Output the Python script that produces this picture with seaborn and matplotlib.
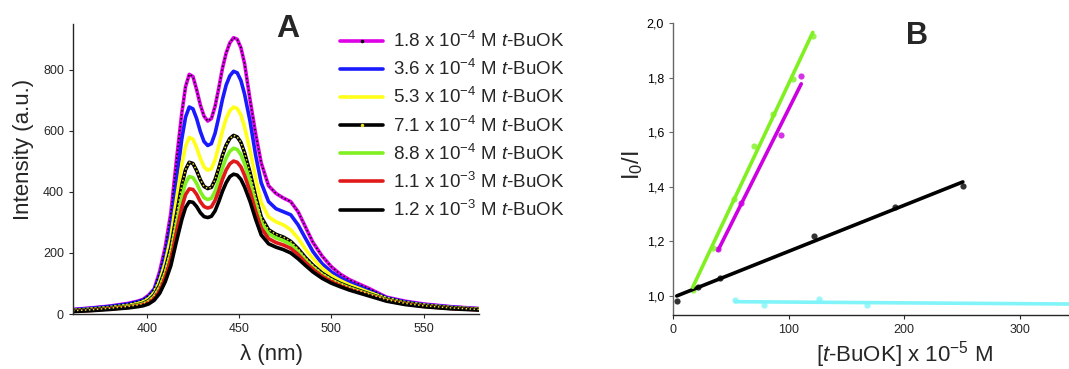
import numpy as np
import pandas as pd
import matplotlib.pyplot as plt
import seaborn as sns
from matplotlib.lines import Line2D

# --- panel A: emission spectra ---
wl = [360, 370, 380, 390, 395, 398, 401, 404, 407, 410, 413, 416, 419, 421, 423, 425, 427,
      429, 431, 433, 435, 437, 439, 441, 443, 445, 447, 449, 451, 453, 456, 459, 462, 466,
      470, 474, 478, 482, 486, 490, 495, 500, 505, 510, 520, 530, 540, 550, 565, 580]

c18 = [15, 20, 26, 35, 42, 48, 62, 82, 140, 220, 330, 500, 660, 745, 785, 778, 735,
       685, 648, 632, 640, 680, 740, 805, 855, 888, 905, 900, 872, 820, 700, 590, 495, 420,
       395, 380, 368, 335, 285, 235, 190, 155, 130, 112, 85, 55, 42, 33, 24, 18]
c36 = [14, 19, 25, 33, 40, 46, 58, 80, 125, 195, 290, 435, 575, 645, 678, 672, 640,
       598, 565, 552, 558, 592, 645, 703, 750, 780, 795, 790, 765, 720, 630, 520, 430, 368,
       345, 335, 325, 292, 248, 205, 165, 138, 118, 103, 78, 53, 40, 31, 23, 17]
c53 = [12, 16, 21, 28, 34, 40, 50, 70, 108, 168, 250, 372, 490, 550, 578, 573, 545,
       510, 482, 471, 476, 505, 550, 600, 640, 666, 678, 673, 652, 612, 535, 445, 365, 318,
       302, 292, 276, 248, 212, 182, 150, 126, 109, 95, 72, 50, 37, 29, 21, 16]
c71 = [11, 14, 19, 25, 30, 35, 44, 62, 95, 147, 218, 322, 423, 473, 497, 493, 470,
       440, 418, 411, 415, 440, 478, 520, 553, 575, 585, 580, 562, 528, 462, 385, 318, 276,
       261, 252, 238, 214, 185, 160, 134, 115, 100, 88, 67, 47, 35, 27, 20, 15]
c88 = [10, 13, 18, 24, 29, 33, 41, 57, 87, 134, 199, 293, 384, 429, 450, 447, 428,
       401, 381, 375, 379, 402, 437, 478, 511, 533, 543, 539, 522, 492, 432, 362, 301, 263,
       249, 240, 228, 205, 177, 153, 129, 111, 97, 85, 65, 46, 34, 26, 19, 15]
c110 = [9, 12, 17, 22, 27, 31, 38, 52, 79, 122, 181, 267, 350, 391, 410, 408, 392,
        368, 352, 347, 351, 372, 404, 441, 472, 492, 501, 497, 482, 454, 400, 336, 282, 247,
        234, 226, 215, 195, 169, 147, 124, 107, 94, 82, 63, 44, 33, 25, 18, 14]
c120 = [8, 11, 15, 20, 24, 27, 33, 45, 68, 106, 158, 236, 310, 349, 368, 366, 352,
        332, 319, 316, 320, 338, 368, 402, 430, 450, 458, 455, 441, 416, 368, 310, 259, 230,
        219, 211, 200, 181, 159, 138, 117, 101, 89, 78, 60, 42, 31, 24, 17, 13]

spectra = [c18, c36, c53, c71, c88, c110, c120]
conc_labels = [
    r"1.8 x 10$^{-4}$ M $\mathit{t}$-BuOK",
    r"3.6 x 10$^{-4}$ M $\mathit{t}$-BuOK",
    r"5.3 x 10$^{-4}$ M $\mathit{t}$-BuOK",
    r"7.1 x 10$^{-4}$ M $\mathit{t}$-BuOK",
    r"8.8 x 10$^{-4}$ M $\mathit{t}$-BuOK",
    r"1.1 x 10$^{-3}$ M $\mathit{t}$-BuOK",
    r"1.2 x 10$^{-3}$ M $\mathit{t}$-BuOK",
]
line_colors = ['#e000e8', '#1a1aff', '#ffff1a', '#000000', '#80f020', '#e01a1a', '#000000']
dot_colors = ['#000000', None, None, '#e8e020', None, None, None]

# --- panel B: Stern-Volmer ---
green_x = [17, 34.8, 52.6, 69.8, 86.8, 104, 121]
green_y = [1.02, 1.175, 1.356, 1.551, 1.666, 1.796, 1.953]
magenta_x = [39, 58.6, 93.7, 111]
magenta_y = [1.171, 1.342, 1.588, 1.807]
black_x = [3.2, 21.8, 40.5, 121.8, 192, 250.9]
black_y = [0.983, 1.034, 1.065, 1.22, 1.327, 1.401]
cyan_x = [54, 78.7, 126, 168, 390]
cyan_y = [0.985, 0.967, 0.989, 0.967, 0.97]

b_yticks = [1.0, 1.2, 1.4, 1.6, 1.8, 2.0]
b_yticklabels = ['1,0', '1,2', '1,4', '1,6', '1,8', '2,0']

sns.set_style('ticks')
plt.rcParams['font.family'] = ['Liberation Sans', 'DejaVu Sans']
plt.rcParams['mathtext.fontset'] = 'custom'
plt.rcParams['mathtext.rm'] = 'Liberation Sans'
plt.rcParams['mathtext.it'] = 'Liberation Sans:italic'
plt.rcParams['mathtext.bf'] = 'Liberation Sans:bold'

fig = plt.figure(figsize=(10.69, 3.69), dpi=100)
axA = fig.add_axes([0.0683, 0.149, 0.3797, 0.786])
axB = fig.add_axes([0.6296, 0.1463, 0.4322, 0.7914])

rows = []
for lab, vals in zip(conc_labels, spectra):
    for w, v in zip(wl, vals):
        rows.append((w, v, lab))
df = pd.DataFrame(rows, columns=['wl', 'I', 'conc'])

sns.lineplot(data=df, x='wl', y='I', hue='conc', hue_order=conc_labels,
             palette=line_colors, lw=2.6, legend=False, errorbar=None, ax=axA)
for vals, dc in zip(spectra, dot_colors):
    if dc is not None:
        axA.plot(wl, vals, color=dc, lw=1.1, ls=(0, (1, 1.6)))

axA.set_xlim(360, 580)
axA.set_ylim(0, 950)
axA.set_xticks([400, 450, 500, 550])
axA.set_yticks([0, 200, 400, 600, 800])
axA.set_xlabel("λ (nm)", fontsize=16, va='center')
axA.set_ylabel("Intensity (a.u.)", fontsize=16, va='center')
axA.xaxis.set_label_coords(0.49, -0.14)
axA.yaxis.set_label_coords(-0.123, 0.566)
fig.text(288 / 1069, 1 - 29 / 369, "A", fontsize=23, fontweight='bold', ha='center', va='center')

handles = []
for c, dc in zip(line_colors, dot_colors):
    if dc is None:
        handles.append(Line2D([], [], color=c, lw=2.6))
    else:
        handles.append(Line2D([], [], color=c, lw=2.6, marker='.', markersize=3,
                              markerfacecolor=dc, markeredgecolor=dc))
fig.legend(handles, conc_labels, loc='upper left', bbox_to_anchor=(340 / 1069, 1 - 31 / 369),
           frameon=False, fontsize=13.5, handlelength=2.3, handletextpad=0.55,
           labelspacing=0.43, borderpad=0, borderaxespad=0, numpoints=1)

for x, y, c in [(black_x, black_y, '#000000'), (magenta_x, magenta_y, '#cc00e0'),
                (green_x, green_y, '#80f020'), (cyan_x, cyan_y, '#80f4f8')]:
    sns.regplot(x=np.array(x), y=np.array(y), ci=None, color=c, ax=axB, truncate=True,
                scatter_kws=dict(s=20, linewidths=0), line_kws=dict(lw=2.6))

axB.set_xlim(0, 400)
axB.set_ylim(0.93, 2.0)
axB.set_xticks([0, 100, 200, 300])
axB.set_yticks(b_yticks)
axB.set_yticklabels(b_yticklabels)
axB.set_xlabel(r"[$\mathit{t}$-BuOK] x 10$^{-5}$ M", fontsize=16, va='center')
axB.set_ylabel(r"I$_0$/I", fontsize=17, va='center')
axB.xaxis.set_label_coords(0.5, -0.135)
axB.yaxis.set_label_coords(-0.0887, 0.514)
fig.text(917 / 1069, 1 - 36 / 369, "B", fontsize=22, fontweight='bold', ha='center', va='center')

for ax in (axA, axB):
    sns.despine(ax=ax)
    ax.tick_params(labelsize=9, length=3, width=0.8, direction='out')
    ax.spines['left'].set_linewidth(1.0)
    ax.spines['bottom'].set_linewidth(1.0)
axB.spines['left'].set_color('#666666')
axB.tick_params(axis='y', colors='#666666', labelcolor='black')

fig.savefig("out.png", dpi=100)
